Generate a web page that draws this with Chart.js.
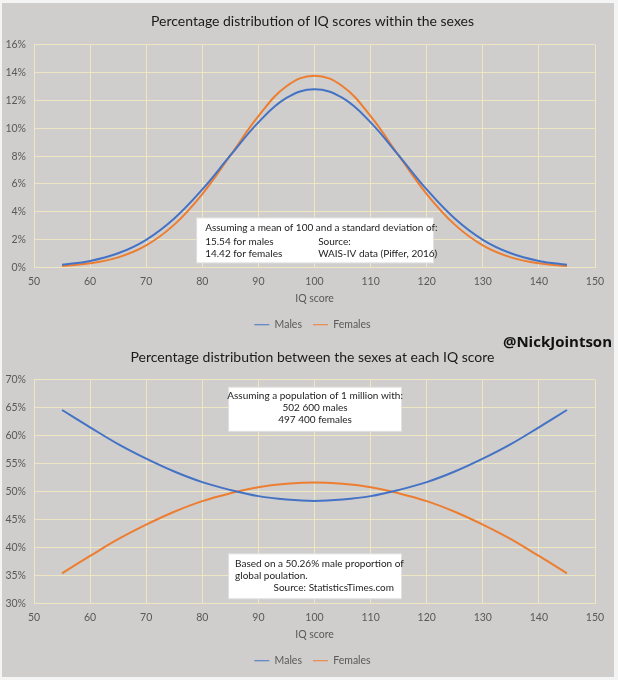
<!DOCTYPE html>
<html>
<head>
<meta charset="utf-8">
<script src="https://cdn.jsdelivr.net/npm/chart.js@4.4.1/dist/chart.umd.min.js"></script>
<style>
  html, body { margin: 0; padding: 0; background: #f4f4f4; overflow: hidden; }
  #panel { position: absolute; left: 2px; top: 3px; width: 612px; height: 674px; background: #cfcecd; }
  .wrap { position: absolute; left: 0; width: 621px; }
  #top { top: 0; height: 337px; }
  #bottom { top: 335px; height: 338px; }
  #handle { position: absolute; right: 2px; top: 328px; font: bold 15px "Open Sans", sans-serif; color: #111; }
</style>
</head>
<body>
<div id="panel">
  <div class="wrap" id="top"><canvas id="distChart"></canvas></div>
  <div class="wrap" id="bottom"><canvas id="shareChart"></canvas></div>
  <div id="handle">@NickJointson</div>
</div>
<script>
// IQ scores along the x axis
const iqScores = [55, 60, 65, 70, 75, 80, 85, 90, 95, 100, 105, 110, 115, 120, 125, 130, 135, 140, 145];
const xTicks = [50, 60, 70, 80, 90, 100, 110, 120, 130, 140, 150];

// chart 1: % of each sex at each score
const malesPct = [0.19, 0.47, 1.02, 1.99, 3.52, 5.61, 8.05, 10.43, 12.18, 12.8, 12.18, 10.43, 8.05, 5.61, 3.52, 1.99, 1.02, 0.47, 0.19];
const femalesPct = [0.11, 0.3, 0.73, 1.59, 3.08, 5.28, 8.05, 10.87, 13.02, 13.78, 13.02, 10.87, 8.05, 5.28, 3.08, 1.59, 0.73, 0.3, 0.11];

// chart 2: share of males / females at each score
const malesShare = [64.6, 61.5, 58.5, 55.9, 53.6, 51.7, 50.3, 49.2, 48.6, 48.35, 48.6, 49.2, 50.3, 51.7, 53.6, 55.9, 58.5, 61.5, 64.6];
const femalesShare = [35.4, 38.5, 41.5, 44.1, 46.4, 48.3, 49.7, 50.8, 51.4, 51.65, 51.4, 50.8, 49.7, 48.3, 46.4, 44.1, 41.5, 38.5, 35.4];

const FONT = "Lato, 'Open Sans', sans-serif";
const BLUE = "#4472c4";
const ORANGE = "#ed7d31";
const GRID = "#efe6c4";

const toPoints = (ys) => ys.map((y, i) => ({ x: iqScores[i], y: y }));

// draws the white note boxes, anchored to scale values
const noteBoxes = {
  id: "noteBoxes",
  afterDatasetsDraw(chart, args, opts) {
    const ctx = chart.ctx;
    const xs = chart.scales.x, ys = chart.scales.y;
    (opts.boxes || []).forEach((b) => {
      const l = xs.getPixelForValue(b.x1), r = xs.getPixelForValue(b.x2);
      const t = ys.getPixelForValue(b.y1), bt = ys.getPixelForValue(b.y2);
      ctx.save();
      ctx.fillStyle = "#fff";
      ctx.strokeStyle = "rgba(0,0,0,0.12)";
      ctx.lineWidth = 1;
      ctx.fillRect(l, t, r - l, bt - t);
      ctx.strokeRect(l + 0.5, t + 0.5, r - l - 1, bt - t - 1);
      ctx.fillStyle = "#222";
      ctx.font = "10px " + FONT;
      ctx.textBaseline = "middle";
      b.lines.forEach((ln) => {
        ctx.textAlign = ln.align || "left";
        const x = ln.align === "center" ? (l + r) / 2 : ln.align === "right" ? r - ln.dx : l + ln.dx;
        ctx.fillText(ln.text, x, t + ln.dy);
      });
      ctx.restore();
    });
  }
};

function makeOptions(title, titlePad, yMin, yMax, yStep, boxes) {
  return {
    responsive: true,
    maintainAspectRatio: false,
    animation: false,
    layout: { padding: 0 },
    elements: { point: { radius: 0 }, line: { tension: 0.4, borderWidth: 2 } },
    scales: {
      x: {
        type: "linear",
        min: 50,
        max: 150,
        afterBuildTicks: (s) => { s.ticks = xTicks.map((v) => ({ value: v })); },
        grid: { color: GRID, drawTicks: false, lineWidth: 1 },
        border: { display: true, color: GRID },
        ticks: { padding: 8, color: "#595959", font: { family: FONT, size: 10.5 } },
        title: { display: true, text: "IQ score", color: "#595959", font: { family: FONT, size: 10.5 }, padding: { top: 4, bottom: 4 } },
        afterFit: (s) => { s.height = 41; }
      },
      y: {
        min: yMin,
        max: yMax,
        grid: { color: GRID, drawTicks: false },
        border: { display: true, color: GRID },
        ticks: { stepSize: yStep, padding: 8, color: "#595959", font: { family: FONT, size: 10.5 }, callback: (v) => v + "%" },
        afterFit: (s) => { s.width = 32; }
      },
      // empty right axis: only reserves the right margin so title and legend centre over the plot
      margin: {
        position: "right",
        min: 0,
        max: 1,
        grid: { display: false },
        border: { display: false },
        ticks: { display: false },
        afterFit: (s) => { s.width = 28; }
      }
    },
    plugins: {
      title: { display: true, text: title, color: "#1a1a1a", font: { family: FONT, size: 14, weight: "normal" }, padding: titlePad },
      legend: {
        position: "bottom",
        labels: { usePointStyle: true, pointStyle: "line", pointStyleWidth: 15, padding: 11, color: "#595959", font: { family: FONT, size: 10.5 } }
      },
      tooltip: { enabled: false },
      noteBoxes: { boxes: boxes }
    }
  };
}

function makeChart(id, title, titlePad, males, females, yMin, yMax, yStep, boxes) {
  return new Chart(document.getElementById(id), {
    type: "line",
    data: {
      datasets: [
        { label: "Males", data: toPoints(males), borderColor: BLUE, backgroundColor: BLUE },
        { label: "Females", data: toPoints(females), borderColor: ORANGE, backgroundColor: ORANGE }
      ]
    },
    options: makeOptions(title, titlePad, yMin, yMax, yStep, boxes),
    plugins: [noteBoxes]
  });
}

makeChart("distChart", "Percentage distribution of IQ scores within the sexes", { top: 10, bottom: 15 },
  malesPct, femalesPct, 0, 16, 2, [
  {
    x1: 78.9, x2: 121.3, y1: 3.6, y2: 0.3,
    lines: [
      { text: "Assuming a mean of 100 and a standard deviation of:", dx: 9, dy: 10 },
      { text: "15.54 for males", dx: 9, dy: 24 },
      { text: "Source:", dx: 122, dy: 24 },
      { text: "14.42 for females", dx: 9, dy: 36 },
      { text: "WAIS-IV data (Piffer, 2016)", dx: 122, dy: 36 }
    ]
  }
]);

makeChart("shareChart", "Percentage distribution between the sexes at each IQ score", { top: 11, bottom: 14 },
  malesShare, femalesShare, 30, 70, 5, [
  {
    x1: 84.6, x2: 115.6, y1: 68.75, y2: 60.7,
    lines: [
      { text: "Assuming a population of 1 million with:", align: "center", dy: 9 },
      { text: "502 600 males", align: "center", dy: 21 },
      { text: "497 400 females", align: "center", dy: 33 }
    ]
  },
  {
    x1: 84.6, x2: 115.6, y1: 38.97, y2: 30.77,
    lines: [
      { text: "Based on a 50.26% male proportion of", dx: 7, dy: 10 },
      { text: "global poulation.", dx: 7, dy: 22 },
      { text: "Source: StatisticsTimes.com", align: "right", dx: 8, dy: 34 }
    ]
  }
]);
</script>
</body>
</html>
